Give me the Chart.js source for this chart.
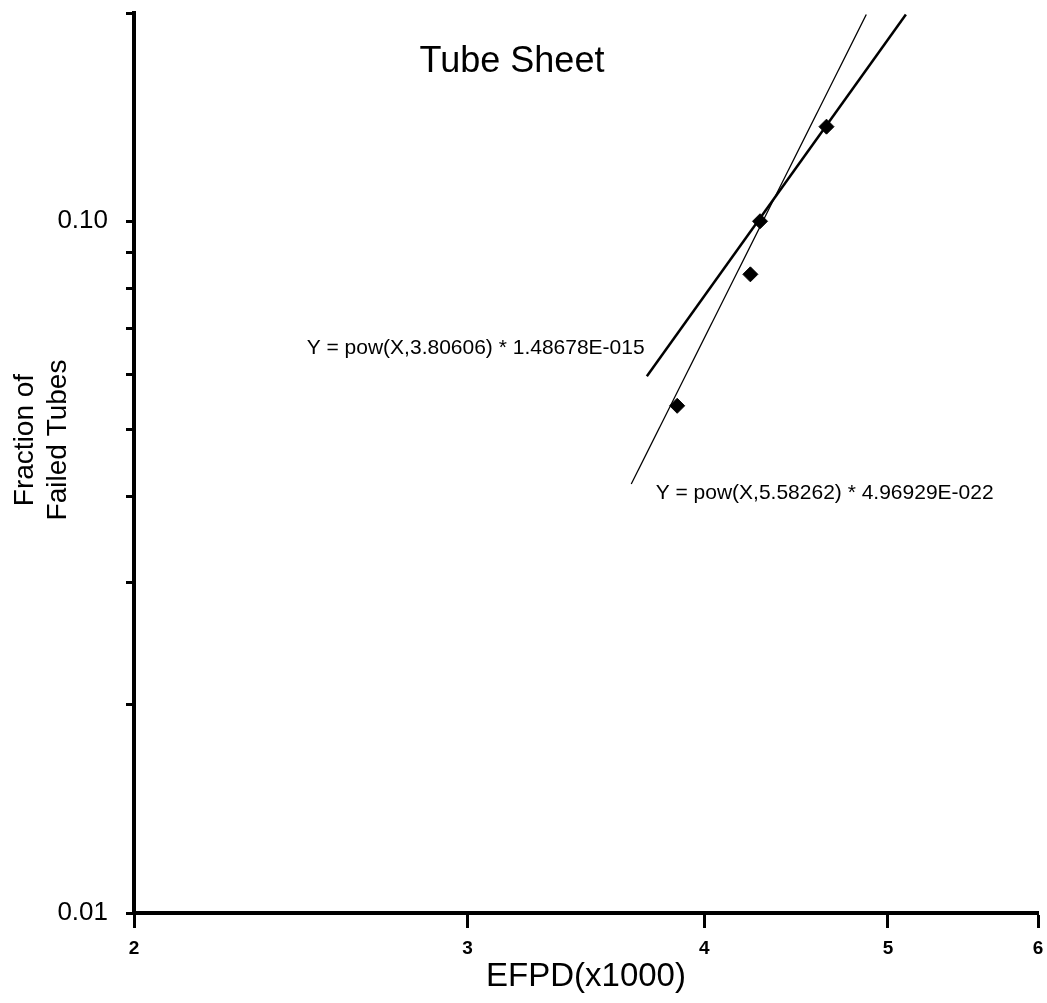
<!DOCTYPE html>
<html>
<head>
<meta charset="utf-8">
<title>Tube Sheet</title>
<script src="https://cdn.jsdelivr.net/npm/chart.js@4.4.1/dist/chart.umd.min.js"></script>
<style>
  html, body { margin: 0; padding: 0; background: #fff; }
  #wrap { width: 1047px; height: 1003px; position: relative; }
</style>
</head>
<body>
<div id="wrap"><canvas id="chart"></canvas></div>
<script>
/* ---------------------------- Dados --------------------------------------- */
// Pontos medidos (EFPD em milhares, fração de tubos falhados)
const efpd = [3.87, 4.23, 4.28, 4.64];
const fraction = [0.0541, 0.0838, 0.100, 0.137];

const fit1X = [3.73, 5.11];
const fit1Y = [0.0597, 0.199];
const fit2X = [3.66, 4.87];
const fit2Y = [0.0417, 0.199];

const fit1Label = "Y = pow(X,3.80606) * 1.48678E-015";
const fit2Label = "Y = pow(X,5.58262) * 4.96929E-022";

// Eixos
const xTicks = [2, 3, 4, 5, 6];
const yTicks = [0.01, 0.02, 0.03, 0.04, 0.05, 0.06, 0.07, 0.08, 0.09, 0.1, 0.2];
const yLabels = { 0.01: "0.01", 0.1: "0.10" };

const FONT = "'Liberation Sans', Arial, sans-serif";
const toXY = (xs, ys) => xs.map((x, i) => ({ x, y: ys[i] }));

/* ----------------------- Textos sobre o gráfico --------------------------- */
const textPlugin = {
  id: "texts",
  afterDatasetsDraw(chart) {
    const { ctx, scales: { x, y } } = chart;
    ctx.save();
    ctx.fillStyle = "#000";
    ctx.textBaseline = "middle";

    // título dentro da área
    ctx.font = `36px ${FONT}`;
    ctx.textAlign = "center";
    ctx.fillText("Tube Sheet", 512, 62);

    // equações das retas
    ctx.font = `21px ${FONT}`;
    ctx.textAlign = "right";
    ctx.fillText(fit1Label, x.getPixelForValue(3.72), y.getPixelForValue(0.0656));
    ctx.textAlign = "left";
    ctx.fillText(fit2Label, x.getPixelForValue(3.77), y.getPixelForValue(0.0404));

    // título do eixo Y (duas linhas, rotacionado)
    ctx.font = `28px ${FONT}`;
    ctx.textAlign = "center";
    ctx.translate(0, 440);
    ctx.rotate(-Math.PI / 2);
    ctx.fillText("Fraction of", 0, 25);
    ctx.fillText("Failed Tubes", 0, 58);
    ctx.restore();
  },
};

/* ------------------------------ Gráfico ----------------------------------- */
new Chart(document.getElementById("chart"), {
  type: "scatter",
  data: {
    datasets: [
      {
        label: "fit1", type: "line", data: toXY(fit1X, fit1Y),
        borderColor: "#000", borderWidth: 2.5, pointRadius: 0, fill: false,
      },
      {
        label: "fit2", type: "line", data: toXY(fit2X, fit2Y),
        borderColor: "#000", borderWidth: 1.3, pointRadius: 0, fill: false,
      },
      {
        label: "dados", data: toXY(efpd, fraction),
        pointStyle: "rectRot", pointRadius: 7.5, backgroundColor: "#000", borderColor: "#000",
      },
    ],
  },
  options: {
    responsive: true, maintainAspectRatio: false, animation: false,
    layout: { padding: { left: 0, right: 9, top: 13, bottom: 0 } },
    plugins: { legend: { display: false }, tooltip: { enabled: false }, title: { display: false } },
    scales: {
      x: {
        type: "logarithmic", min: 2, max: 6,
        afterBuildTicks: (s) => { s.ticks = xTicks.map((v) => ({ value: v })); },
        afterFit: (s) => { s.height = 90; s.paddingLeft = 0; s.paddingRight = 0; },
        ticks: {
          color: "#000", padding: 9, maxRotation: 0, autoSkip: false,
          font: { family: FONT, size: 19, weight: "bold" },
          callback: (v) => String(v),
        },
        grid: { drawOnChartArea: false, drawTicks: true, tickLength: 15, tickWidth: 3, tickColor: "#000" },
        border: { display: true, color: "#000", width: 4 },
        title: {
          display: true, text: "EFPD(x1000)", color: "#000",
          font: { family: FONT, size: 33 }, padding: { top: 0, bottom: 6 },
        },
      },
      y: {
        type: "logarithmic", min: 0.01, max: 0.2,
        afterBuildTicks: (s) => { s.ticks = yTicks.map((v) => ({ value: v })); },
        afterFit: (s) => { s.width = 134; s.paddingTop = 0; s.paddingBottom = 0; },
        ticks: {
          color: "#000", padding: 18, autoSkip: false,
          font: { family: FONT, size: 26 },
          callback: (v) => yLabels[v] || "",
        },
        grid: { drawOnChartArea: false, drawTicks: true, tickLength: 8, tickWidth: 3, tickColor: "#000" },
        border: { display: true, color: "#000", width: 4 },
      },
    },
  },
  plugins: [textPlugin],
});
</script>
</body>
</html>
